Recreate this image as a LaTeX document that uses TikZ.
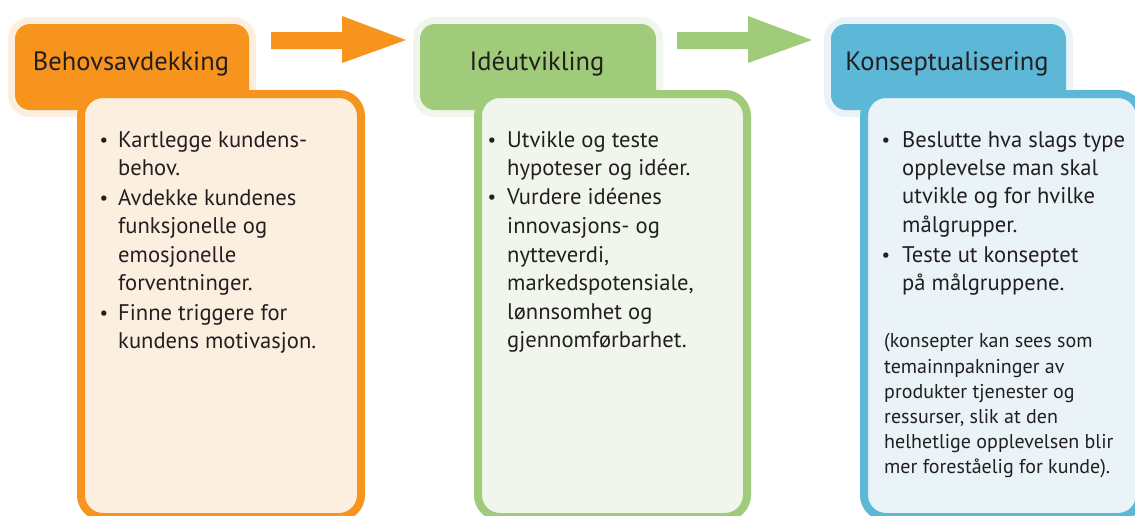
\documentclass[tikz,border=0pt]{standalone}
\usepackage{fontspec}
\setmainfont{PT Sans}
\definecolor{org}{HTML}{F7941D}
\definecolor{orgl}{HTML}{FDEFE0}
\definecolor{grn}{HTML}{A0CB7B}
\definecolor{grnl}{HTML}{F1F6EC}
\definecolor{blu}{HTML}{5DB7D6}
\definecolor{blul}{HTML}{EAF3F7}
\definecolor{txt}{HTML}{231F20}
\begin{document}
\begin{tikzpicture}[x=1pt,y=-1pt,
  halo/.style={fill=#1, rounded corners=22pt},
  titlebox/.style={fill=#1, rounded corners=15pt},
  bodybox/.style={draw=#1, line width=8pt, rounded corners=22pt},
  blockarrow/.style={fill=#1},
  titletext/.style={font=\fontsize{26.5}{30}\selectfont, text=txt, anchor=base, inner sep=0pt},
  bodytext/.style={font=\fontsize{22.6}{28}\selectfont, text=txt, anchor=base west, inner sep=0pt},
  smalltext/.style={font=\fontsize{20}{25}\selectfont, text=txt, anchor=base west, inner sep=0pt},
  bul/.style={font=\fontsize{19}{28}\selectfont, text=txt, anchor=base, inner sep=0pt}]
\useasboundingbox (0,0) rectangle (1135,515);
\clip (0,0) rectangle (1135,515);
% arrows
\fill[blockarrow=org] (271,32) -- (342,32) -- (342,16) -- (406,40) -- (342,63) -- (342,49) -- (271,49) -- cycle;
\fill[blockarrow=grn] (677,32) -- (748,32) -- (748,16) -- (812,40) -- (748,63) -- (748,49) -- (677,49) -- cycle;
% orange
\fill[halo=orgl] (8,17) rectangle (256,117);
\fill[titlebox=org] (15,24) rectangle (249,110);
\draw[bodybox=org, fill=orgl] (81,94) rectangle (361,517);
% green
\fill[halo=grnl] (413,17) rectangle (663,117);
\fill[titlebox=grn] (420,24) rectangle (656,110);
\draw[bodybox=grn, fill=grnl] (478,94) rectangle (747,517);
% blue
\fill[halo=blul] (824,17) rectangle (1073,117);
\fill[titlebox=blu] (831,24) rectangle (1066,110);
\draw[bodybox=blu, fill=blul] (864,94) rectangle (1140,517);
% titles
\node[titletext] (t1) at (131,70) {Behovsavdekking};
\node[titletext] (t2) at (537,70) {Idéutvikling};
\node[titletext] (t3) at (947,70) {Konseptualisering};
% orange body
\node[bul] (ob1) at (104,146) {•};
\node[bodytext] (o1) at (118,147) {Kartlegge kundens-};
\node[bodytext] (o2) at (118,175) {behov.};
\node[bul] (ob2) at (104,204) {•};
\node[bodytext] (o3) at (118,205) {Avdekke kundenes};
\node[bodytext] (o4) at (118,233) {funksjonelle og};
\node[bodytext] (o5) at (118,262) {emosjonelle};
\node[bodytext] (o6) at (118,290) {forventninger.};
\node[bul] (ob3) at (104,319) {•};
\node[bodytext] (o7) at (118,320) {Finne triggere for};
\node[bodytext] (o8) at (118,348) {kundens motivasjon.};
% green body
\node[bul] (gb1) at (492,146) {•};
\node[bodytext] (g1) at (507,147) {Utvikle og teste};
\node[bodytext] (g2) at (507,175) {hypoteser og idéer.};
\node[bul] (gb2) at (492,203) {•};
\node[bodytext] (g3) at (507,204) {Vurdere idéenes};
\node[bodytext] (g4) at (507,233) {innovasjons- og};
\node[bodytext] (g5) at (507,262) {nytteverdi,};
\node[bodytext] (g6) at (507,290) {markedspotensiale,};
\node[bodytext] (g7) at (507,319) {lønnsomhet og};
\node[bodytext] (g8) at (507,347) {gjennomførbarhet.};
% blue body
\node[bul] (bb1) at (886,146) {•};
\node[bodytext] (b1) at (902,147) {Beslutte hva slags type};
\node[bodytext] (b2) at (902,175) {opplevelse man skal};
\node[bodytext] (b3) at (902,203) {utvikle og for hvilke};
\node[bodytext] (b4) at (902,232) {målgrupper.};
\node[bul] (bb2) at (886,261) {•};
\node[bodytext] (b5) at (902,262) {Teste ut konseptet};
\node[bodytext] (b6) at (902,290) {på målgruppene.};
\node[smalltext] (s1) at (884,347) {(konsepter kan sees som};
\node[smalltext] (s2) at (884,373) {temainnpakninger av};
\node[smalltext] (s3) at (884,398) {produkter tjenester og};
\node[smalltext] (s4) at (884,423) {ressurser, slik at den};
\node[smalltext] (s5) at (884,448) {helhetlige opplevelsen blir};
\node[smalltext] (s6) at (884,473) {mer foreståelig for kunde).};
\end{tikzpicture}
\end{document}
